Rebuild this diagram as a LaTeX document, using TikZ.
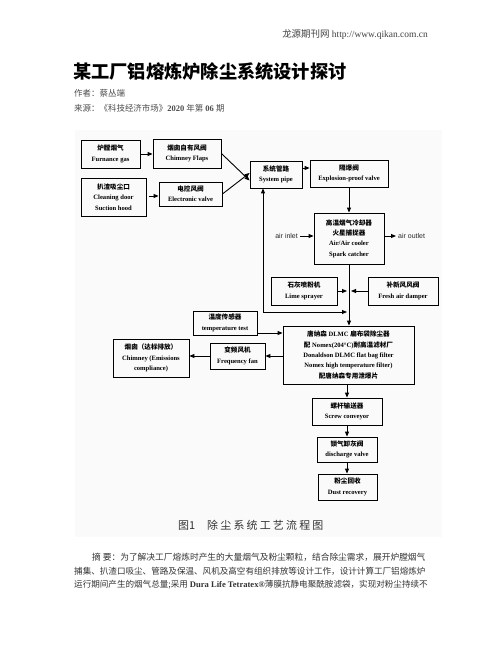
\documentclass[tikz,border=0pt]{standalone}
\usepackage{fontspec}
\setmainfont{Liberation Serif}
\newfontfamily\cjk{Noto Sans CJK SC}
\newfontfamily\asans{Liberation Sans}
\usetikzlibrary{arrows.meta}
\newcommand\boxfont{\fontsize{6.6}{10.4}\selectfont\bfseries}
\tikzset{
  box/.style={draw, line width=0.85pt, inner sep=0pt, align=center, font=\boxfont},
  arr/.style={-{Triangle[length=5bp,width=4bp]}, line width=0.9pt},
  darr/.style={{Triangle[length=5bp,width=4bp]}-{Triangle[length=5bp,width=4bp]}, line width=0.9pt},
  side/.style={font=\asans\fontsize{7}{8}\selectfont, text=black!85, inner sep=0pt}
}
\newcommand\bx[6]{\node[box, minimum width=#4bp, minimum height=#5bp] (#1) at (#2,#3) {#6};}
\begin{document}
\begin{tikzpicture}[x=1bp,y=-1bp]
\useasboundingbox[fill=white] (0,0) rectangle (502,649);
% header
\node[anchor=east, inner sep=0pt, text=black!75, font=\fontsize{9.5}{10}\selectfont] (hdr) at (428,35) {{\cjk 龙源期刊网} http://www.qikan.com.cn};
\node[anchor=west, inner sep=0pt, font=\cjk\bfseries\fontsize{18.3}{19}\selectfont] (title) at (73,72) {某工厂铝熔炼炉除尘系统设计探讨};
\node[anchor=west, inner sep=0pt, text=black!70, font=\fontsize{8.5}{9}\selectfont] (author) at (74,93) {{\cjk 作者：蔡丛端}};
\node[anchor=west, inner sep=0pt, text=black!70, font=\fontsize{8.5}{9}\selectfont] (source) at (74,108) {{\cjk 来源：《科技经济市场》}\textbf{2020} {\cjk 年第} \textbf{06} {\cjk 期}};
% figure background
\fill[black!2] (75,130) rectangle (442,537);
% boxes
\bx{furnace}{110.5}{154}{59}{28}{{\cjk 炉膛烟气}\\Furnance gas}
\bx{flaps}{187}{153.5}{68}{29}{{\cjk 烟囱自有风阀}\\Chimney Flaps}
\bx{cleaning}{113.5}{197}{65}{38}{{\cjk 扒渣吸尘口}\\Cleaning door\\Suction hood}
\bx{evalve}{190.5}{194}{63}{24}{{\cjk 电控风阀}\\Electronic valve}
\bx{syspipe}{276}{174.5}{52}{27}{{\cjk 系统管路}\\System pipe}
\bx{explosion}{349}{173.5}{78}{27}{{\cjk 隔爆阀}\\Explosion-proof valve}
\bx{cooler}{349}{238.5}{70}{51}{{\cjk 高温烟气冷却器}\\{\cjk 火星捕捉器}\\Air/Air cooler\\Spark catcher}
\bx{lime}{304}{291}{66}{28}{{\cjk 石灰喷粉机}\\Lime sprayer}
\bx{fresh}{403}{291}{70}{28}{{\cjk 补新风风阀}\\Fresh air damper}
\bx{temp}{225}{323}{64}{24}{{\cjk 温度传感器}\\temperature test}
\bx{filter}{348.5}{355}{131}{58}{{\cjk 唐纳森} DLMC {\cjk 扁布袋除尘器}\\{\cjk 配} Nomex(204\textdegree C){\cjk 耐高温滤材厂}\\Donaldson DLMC flat bag filter\\Nomex high temperature filter)\\{\cjk 配唐纳森专用泄爆片}}
\bx{fan}{237.5}{356}{55}{26}{{\cjk 变频风机}\\Frequency fan}
\bx{chimney}{151}{358}{76}{38}{{\cjk 烟囱（达标排放）}\\Chimney (Emissions\\compliance)}
\bx{screw}{347}{411.5}{70}{27}{{\cjk 螺杆输送器}\\Screw conveyor}
\bx{discharge}{347}{449.5}{60}{25}{{\cjk 锁气卸灰阀}\\discharge valve}
\bx{dust}{347.5}{487}{59}{26}{{\cjk 粉尘回收}\\Dust recovery}
% helper coordinates
\coordinate (ain) at (300,236);
\coordinate (aout) at (396,236);
\coordinate (j) at (263,312);
\coordinate (m) at (347,312);
\coordinate (limeend) at (347,291);
\coordinate (freshend) at (351,291);
\coordinate (c1) at (149,196);
% connectors
\draw[arr] (furnace.east) -- (flaps.west |- furnace.east);
\draw[arr] (c1) -- (evalve.west |- c1);
\draw[arr] (flaps.east) -- ([yshift=-6bp]syspipe.west);
\draw[arr] (evalve.east) -- ([yshift=1.5bp]syspipe.west);
\draw[arr] (syspipe.east |- 0,168) -- (explosion.west |- 0,168);
\draw[arr] (explosion.south) -- (cooler.north);
\node[side, anchor=east] (ailabel) at (298,236) {air inlet};
\draw[arr] (ain) -- (cooler.west |- ain);
\draw[arr] (cooler.east |- aout) -- (aout);
\node[side, anchor=west] (aolabel) at (398,236) {air outlet};
\draw[arr] (cooler.south) -- (filter.north -| cooler.south);
\draw[arr] (lime.east) -- (limeend);
\draw[arr] (fresh.west) -- (freshend);
\draw[darr] (j |- syspipe.south) -- (j) -- (m);
\draw[arr] (temp.east |- 0,333) -- (filter.west |- 0,333);
\draw[arr] (filter.west |- fan.east) -- (fan.east);
\draw[arr] (fan.west) -- (chimney.east |- fan.west);
\draw[arr] (filter.south -| screw.north) -- (screw.north);
\draw[arr] (screw.south) -- (discharge.north);
\draw[arr] (discharge.south) -- (dust.north -| discharge.south);
% caption
\node[anchor=west, inner sep=0pt, text=black!80, font=\cjk\fontsize{11}{12}\selectfont] (cap) at (178,525) {图1\hspace{12bp}\addfontfeatures{LetterSpace=20}除尘系统工艺流程图};
% abstract
\node[anchor=west, inner sep=0pt, text=black!80, font=\cjk\fontsize{8.75}{10}\selectfont] (ab1) at (92,557) {摘 要：为了解决工厂熔炼时产生的大量烟气及粉尘颗粒，结合除尘需求，展开炉膛烟气};
\node[anchor=west, inner sep=0pt, text=black!80, font=\cjk\fontsize{8.6}{10}\selectfont] (ab2) at (74,571) {捕集、扒渣口吸尘、管路及保温、风机及高空有组织排放等设计工作，设计计算工厂铝熔炼炉};
\node[anchor=west, inner sep=0pt, text=black!80, font=\cjk\fontsize{8.6}{10}\selectfont] (ab3) at (74,585) {运行期间产生的烟气总量;采用 {\rmfamily\bfseries Dura Life Tetratex\textregistered}薄膜抗静电聚酰胺滤袋，实现对粉尘持续不};
\end{tikzpicture}
\end{document}
